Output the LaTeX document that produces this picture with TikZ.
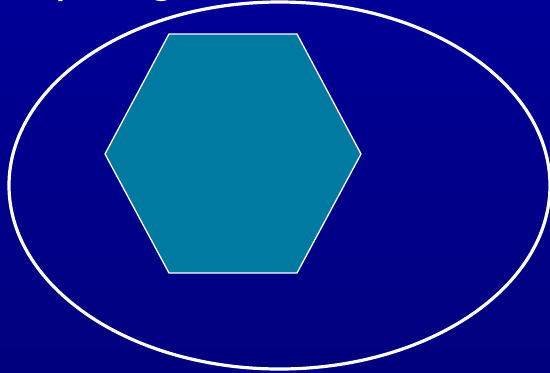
\documentclass[tikz,border=0pt]{standalone}
\usepackage{fontspec}
\setmainfont{Liberation Sans}
\begin{document}
\begin{tikzpicture}[x=1bp,y=-1bp,
  outline/.style={draw=white,line width=3.2bp},
  hexfill/.style={fill=hexteal,draw=white,line width=1.3bp,line join=miter}]
\definecolor{bgtop}{RGB}{0,0,150}
\definecolor{bgbot}{RGB}{0,0,126}
\definecolor{hexteal}{RGB}{0,122,160}
\useasboundingbox (0,0) rectangle (550,372);
\clip (0,0) rectangle (550,372);
\shade[top color=bgtop,bottom color=bgbot] (0,0) rectangle (550,372);
\node[anchor=base west,inner sep=0pt,text=white,font=\fontsize{49}{56}\selectfont] (title) at (4,-8.3) {Topological};
\draw[outline] (279.5,185.5) ellipse [x radius=270.5,y radius=183.5];
\draw[hexfill] (169,34) -- (297,34) -- (361,154) -- (297,273) -- (169,273) -- (105,154) -- cycle;
\end{tikzpicture}
\end{document}
